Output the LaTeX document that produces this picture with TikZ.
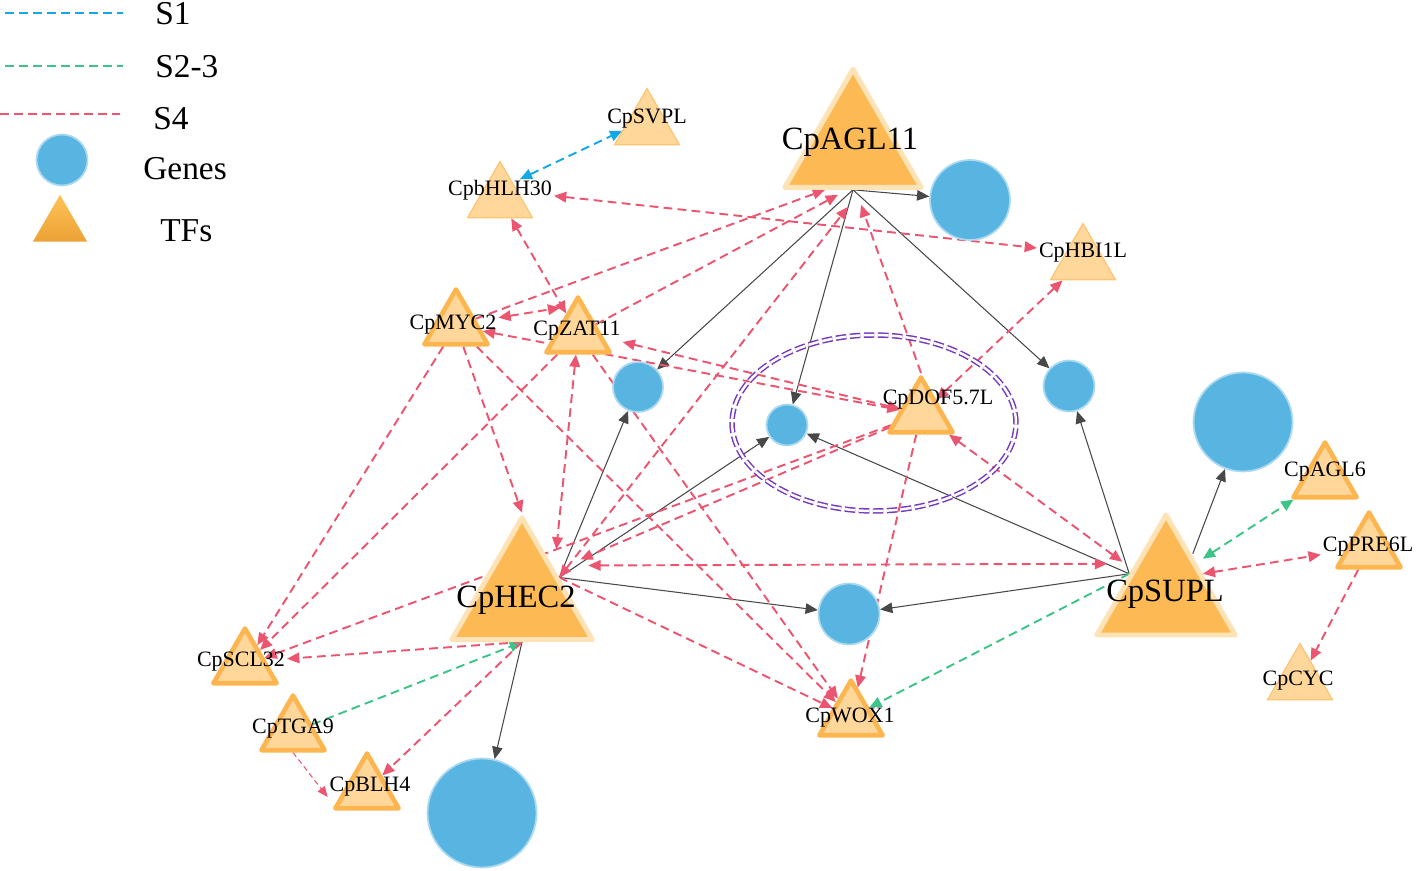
\documentclass[tikz,border=0pt]{standalone}
\usepackage{fontspec}
\setmainfont{Liberation Serif}
\usetikzlibrary{shapes.geometric, arrows.meta, backgrounds}
\definecolor{tforange}{RGB}{253,186,84}
\definecolor{tfpale}{RGB}{255,226,181}
\definecolor{tflight}{RGB}{255,215,154}
\definecolor{tfedge}{RGB}{253,181,80}
\definecolor{legtop}{RGB}{255,194,88}
\definecolor{legbottom}{RGB}{236,162,52}
\definecolor{geneblue}{RGB}{88,181,226}
\definecolor{genepale}{RGB}{172,217,240}
\definecolor{sfourred}{RGB}{235,85,112}
\definecolor{stwogreen}{RGB}{62,196,136}
\definecolor{soneblue}{RGB}{20,168,230}
\definecolor{ringpurple}{RGB}{118,58,190}
\definecolor{reggray}{RGB}{72,72,72}

\begin{document}
\begin{tikzpicture}[x=0.02cm, y=-0.02cm,
    >={Triangle[length=7pt, width=6pt]},
    tfbig/.style={regular polygon, regular polygon sides=3, inner sep=0pt,
                  fill=tforange, draw=tfpale, line width=2.8pt, line join=round},
    tfmid/.style={regular polygon, regular polygon sides=3, inner sep=0pt,
                  minimum size=1.46cm, fill=tflight, draw=tfedge,
                  line width=2.6pt, line join=round},
    tfpal/.style={regular polygon, regular polygon sides=3, inner sep=0pt,
                  minimum size=1.5cm, fill=tflight, draw=tfedge!80, line width=0.7pt},
    gene/.style={circle, inner sep=0pt, fill=geneblue, draw=genepale, line width=1pt},
    lab/.style={font=\fontsize{12.5}{14}\selectfont, inner sep=1pt},
    biglab/.style={font=\fontsize{18.5}{21}\selectfont, inner sep=1pt},
    leg/.style={font=\fontsize{19}{22}\selectfont, anchor=west, inner sep=0pt},
    reg/.style={draw=reggray, line width=0.6pt, ->},
    sfour/.style={draw=sfourred, line width=1.1pt, dash pattern=on 5pt off 3pt},
    stwo/.style={draw=stwogreen, line width=1.1pt, dash pattern=on 5pt off 3pt},
    sone/.style={draw=soneblue, line width=1.1pt, dash pattern=on 5pt off 3pt},
    ring/.style={draw=ringpurple, line width=0.85pt, double=white,
                 double distance=1.4pt, dash pattern=on 6pt off 2pt}
  ]
  \useasboundingbox (0,0) rectangle (1416,871);

  % legend
  \coordinate (legs1) at (5,13);
  \coordinate (legs2) at (5,66);
  \coordinate (legs4) at (0,114);
  \draw[sone, line width=0.8pt] (legs1) -- ++(118,0);
  \draw[stwo, line width=0.8pt] (legs2) -- ++(118,0);
  \draw[sfour, line width=0.8pt] (legs4) -- ++(120,0);
  \node[leg] (legt1) at (155,14) {S1};
  \node[leg] (legt2) at (155,67) {S2-3};
  \node[leg] (legt4) at (153,119) {S4};
  \node[gene, minimum size=1.02cm] (leggene) at (62,160) {};
  \node[leg] (legtg) at (143,169) {Genes};
  \node[regular polygon, regular polygon sides=3, inner sep=0pt, minimum size=1.25cm,
        top color=legtop, bottom color=legbottom] (legtf) at (60,226) {};
  \node[leg] (legtt) at (160,231) {TFs};

  % module ring
  \draw[ring] (874,423) ellipse [x radius=2.84cm, y radius=1.76cm];

  % genes
  \node[gene, minimum size=1.6cm]  (g1) at (970,200) {};
  \node[gene, minimum size=1.0cm]  (g2) at (638,387) {};
  \node[gene, minimum size=0.82cm] (g3) at (787,425) {};
  \node[gene, minimum size=1.02cm] (g4) at (1069,386) {};
  \node[gene, minimum size=1.98cm] (g5) at (1243,422) {};
  \node[gene, minimum size=1.22cm] (g6) at (849,614) {};
  \node[gene, minimum size=2.18cm] (g7) at (482,813) {};

  % hub TFs
  \node[tfbig, minimum size=3.15cm] (agl11) at (853,148) {};
  \node[tfbig, minimum size=3.25cm] (hec2) at (522,599) {};
  \node[tfbig, minimum size=3.2cm]  (supl) at (1166,595) {};
  \node[biglab] (agl11-l) at (850,142) {CpAGL11};
  \node[biglab] (hec2-l) at (516,600) {CpHEC2};
  \node[biglab] (supl-l) at (1165,594) {CpSUPL};

  % other TFs
  \node[tfpal] (svpl) at (647,126) {};
  \node[tfpal] (bhlh30) at (500,199) {};
  \node[tfpal] (hbi1l) at (1083,261) {};
  \node[tfpal] (cyc) at (1300,681) {};
  \node[tfmid] (myc2) at (456,326) {};
  \node[tfmid] (zat11) at (578,334) {};
  \node[tfmid] (dof) at (921,414) {};
  \node[tfmid] (scl32) at (245,665) {};
  \node[tfmid] (tga9) at (293,732) {};
  \node[tfmid] (blh4) at (367,790) {};
  \node[tfmid] (wox1) at (851,717) {};
  \node[tfmid] (agl6) at (1325,479) {};
  \node[tfmid] (pre6l) at (1369,549) {};

  \node[lab] (svpl-l) at (647,119) {CpSVPL};
  \node[lab] (bhlh30-l) at (500,190) {CpbHLH30};
  \node[lab] (hbi1l-l) at (1083,253) {CpHBI1L};
  \node[lab] (cyc-l) at (1298,681) {CpCYC};
  \node[lab] (myc2-l) at (453,325) {CpMYC2};
  \node[lab] (zat11-l) at (577,331) {CpZAT11};
  \node[lab] (dof-l) at (938,400) {CpDOF5.7L};
  \node[lab] (scl32-l) at (241,662) {CpSCL32};
  \node[lab] (tga9-l) at (293,729) {CpTGA9};
  \node[lab] (blh4-l) at (370,787) {CpBLH4};
  \node[lab] (wox1-l) at (850,718) {CpWOX1};
  \node[lab] (agl6-l) at (1325,472) {CpAGL6};
  \node[lab] (pre6l-l) at (1368,547) {CpPRE6L};

  \begin{scope}[on background layer]
    % TF -> gene
    \foreach \g in {g1, g2, g3, g4} \draw[reg] (agl11.side 2) -- (\g);
    \foreach \g in {g2, g3, g6} \draw[reg] (hec2.side 3) -- (\g);
    \draw[reg] (hec2.side 2) -- (g7);
    \foreach \g in {g3, g4, g6} \draw[reg] (supl.side 1) -- (\g);
    \draw[reg] ([xshift=-0.2cm, yshift=0.4cm]supl.side 3) -- (g5);

    % S1
    \draw[sone, <->] ([xshift=0.06cm, yshift=0.2cm]bhlh30.side 3) -- (svpl-l);

    % S2-3
    \draw[stwo, ->] (tga9) -- (hec2.side 2);
    \draw[stwo, ->] (supl.side 1) -- (wox1);
    \draw[stwo, <->] ([yshift=0.3cm]supl.side 3) -- (agl6);

    % S4
    \draw[sfour, <->] (bhlh30-l) -- (hbi1l-l);
    \draw[sfour, <->] (bhlh30) -- (zat11);
    \draw[sfour, ->] (myc2) -- ([xshift=-0.56cm]agl11.side 2);
    \draw[sfour, ->] (zat11) -- ([xshift=-0.3cm, yshift=-0.1cm]agl11.side 2);
    \draw[sfour, <->] (hec2.side 3) -- ([xshift=-0.1cm, yshift=-0.34cm]agl11.side 2);
    \draw[sfour, ->] (dof.corner 1) -- ([xshift=0.16cm, yshift=-0.3cm]agl11.side 2);
    \draw[sfour, <->] (myc2-l) -- ([yshift=0.32cm]zat11.side 1);
    \draw[sfour, <->] (myc2) -- (dof);
    \draw[sfour, <->] (zat11-l) -- (dof);
    \draw[sfour, <->] (hbi1l) -- (dof);
    \draw[sfour, ->] (myc2) -- (scl32);
    \draw[sfour, ->] (zat11) -- (scl32);
    \draw[sfour, ->] (dof) -- (scl32);
    \draw[sfour, ->] (myc2) -- (hec2.corner 1);
    \draw[sfour, <->] (zat11) -- ([xshift=-0.06cm, yshift=0.56cm]hec2.side 3);
    \draw[sfour, ->] (dof) -- ([xshift=0.42cm, yshift=0.36cm]hec2.side 3);
    \draw[sfour, <->] ([xshift=0.58cm, yshift=0.24cm]hec2.side 3)
                   -- ([xshift=-0.44cm, yshift=0.2cm]supl.side 1);
    \draw[sfour, <->] (dof) -- ([xshift=-0.14cm, yshift=0.24cm]supl.side 1);
    \draw[sfour, ->] (myc2) -- (wox1);
    \draw[sfour, ->] (zat11) -- (wox1);
    \draw[sfour, ->] (hec2.side 3) -- (wox1);
    \draw[sfour, ->] (dof) -- (wox1);
    \draw[sfour, ->] (hec2.side 2) -- (scl32-l);
    \draw[sfour, ->] (hec2.side 2) -- (blh4);
    \draw[sfour, line width=0.6pt, dash pattern=on 3pt off 2pt,
          -{Triangle[length=6pt, width=5pt]}] (tga9.side 2) -- ([yshift=-0.2cm]blh4-l.west);
    \draw[sfour, <->] (supl.side 3) -- (pre6l-l);
    \draw[sfour, ->] (pre6l) -- (cyc);
  \end{scope}
\end{tikzpicture}
\end{document}
